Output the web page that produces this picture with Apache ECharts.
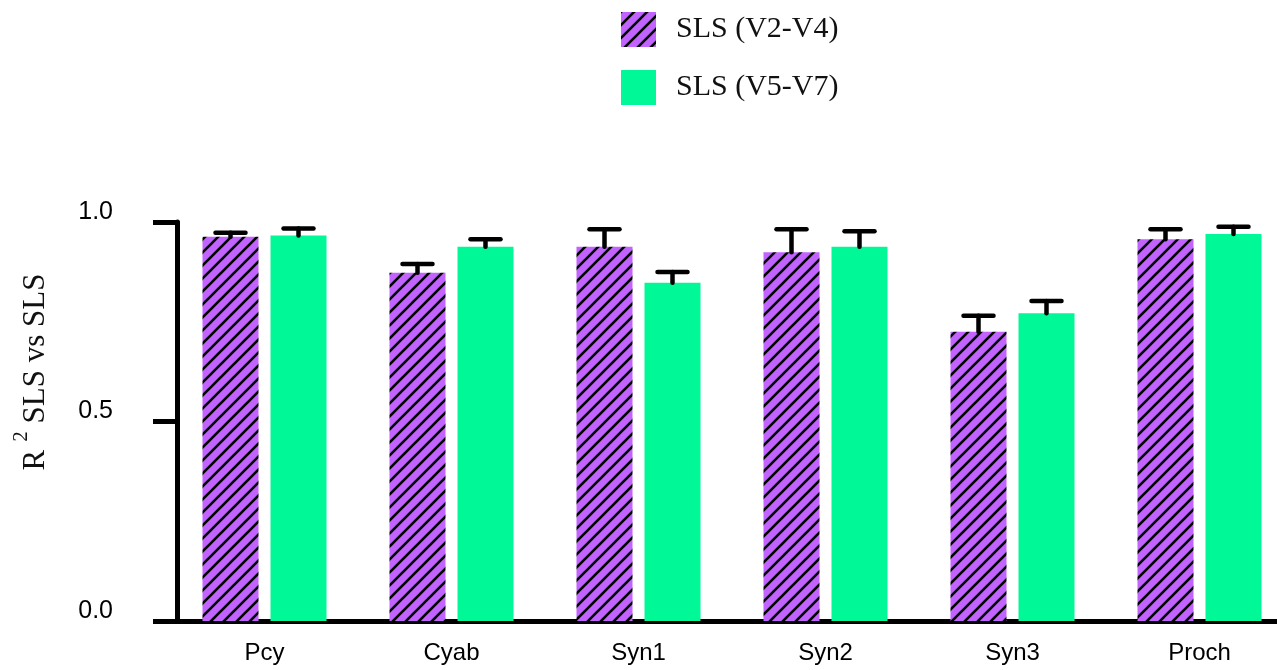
<!DOCTYPE html>
<html>
<head>
<meta charset="utf-8">
<script src="https://cdn.jsdelivr.net/npm/echarts@6/dist/echarts.min.js"></script>
<style>
  html, body { margin: 0; padding: 0; background: #fff; }
  #chart { width: 1277px; height: 670px; }
</style>
</head>
<body>
<div id="chart"></div>
<script>
// Groups along the x axis
const categories = ['Pcy', 'Cyab', 'Syn1', 'Syn2', 'Syn3', 'Proch'];

// Series names
const seriesNames = ['SLS (V2-V4)', 'SLS (V5-V7)'];

// Mean R² per group and upper error (SD)
const meanV2V4 = [0.963, 0.873, 0.938, 0.924, 0.725, 0.957];
const errV2V4  = [0.010, 0.022, 0.044, 0.058, 0.040, 0.025];
const meanV5V7 = [0.966, 0.938, 0.848, 0.938, 0.771, 0.970];
const errV5V7  = [0.018, 0.019, 0.027, 0.039, 0.031, 0.018];

// Y axis ticks
const yTicks = [0, 0.5, 1.0];

const PURPLE = '#C262FF';
const GREEN = '#00F996';
const BAR_W = 56;
const BAR_GAP = 12;

// Diagonal hatch tile for the V2-V4 bars
function hatchTile() {
  const s = 13;
  const c = document.createElement('canvas');
  c.width = s; c.height = s;
  const g = c.getContext('2d');
  g.fillStyle = PURPLE;
  g.fillRect(0, 0, s, s);
  g.strokeStyle = '#000';
  g.lineWidth = 2.6;
  g.beginPath();
  g.moveTo(-2, s + 2); g.lineTo(s + 2, -2);
  g.moveTo(-2, 2); g.lineTo(2, -2);
  g.moveTo(s - 2, s + 2); g.lineTo(s + 2, s - 2);
  g.stroke();
  return c;
}
const hatch = { image: hatchTile(), repeat: 'repeat' };

// Upper-only T error bars, shifted to sit over their own bar
function errorBars(means, errs, side) {
  return {
    type: 'custom',
    name: 'err' + side,
    silent: true,
    z: 5,
    data: means.map((m, i) => [i, m, m + errs[i]]),
    renderItem: function (params, api) {
      const i = api.value(0);
      const shift = side * (BAR_W / 2 + BAR_GAP / 2);
      const lo = api.coord([i, api.value(1)]);
      const hi = api.coord([i, api.value(2)]);
      const x = lo[0] + shift;
      const half = 15;
      const style = { stroke: '#000', lineWidth: 4.5, lineCap: 'round' };
      return {
        type: 'group',
        children: [
          { type: 'line', shape: { x1: x, y1: lo[1], x2: x, y2: hi[1] }, style: style },
          { type: 'line', shape: { x1: x - half, y1: hi[1], x2: x + half, y2: hi[1] }, style: style }
        ]
      };
    }
  };
}

const chart = echarts.init(document.getElementById('chart'), null, { renderer: 'canvas' });

chart.setOption({
  animation: false,
  backgroundColor: '#fff',
  legend: {
    orient: 'vertical',
    left: 621,
    top: 12,
    padding: 0,
    itemWidth: 35,
    itemHeight: 35,
    itemGap: 23,
    icon: 'rect',
    data: seriesNames,
    textStyle: {
      fontFamily: '"Liberation Serif", "Times New Roman", serif',
      fontSize: 30,
      color: '#111',
      padding: [0, 0, 0, 15]
    }
  },
  grid: {
    left: 171,
    width: 1122,
    top: 222,
    bottom: 49,
    containLabel: false,
    outerBoundsMode: 'none'
  },
  xAxis: {
    type: 'category',
    data: categories,
    axisLine: { show: true, lineStyle: { color: '#000', width: 5 } },
    axisTick: { show: false },
    axisLabel: {
      margin: 20,
      fontFamily: '"Liberation Sans", Arial, sans-serif',
      fontSize: 24,
      color: '#000'
    }
  },
  yAxis: {
    type: 'value',
    min: 0,
    max: 1,
    interval: 0.5,
    offset: -6,
    splitLine: { show: false },
    axisLine: { show: true, lineStyle: { color: '#000', width: 5 } },
    axisTick: { show: true, length: 24, lineStyle: { color: '#000', width: 5 } },
    axisLabel: {
      margin: 64,
      fontFamily: '"Liberation Sans", Arial, sans-serif',
      fontSize: 25,
      color: '#000',
      verticalAlign: 'bottom',
      lineHeight: 20,
      formatter: function (v) {
        return yTicks.indexOf(v) >= 0 ? v.toFixed(1) : '';
      }
    },
    name: '{b|R}{s|2}{b| SLS vs SLS}',
    nameLocation: 'middle',
    nameRotate: 90,
    nameGap: 117,
    nameTextStyle: {
      padding: [0, 0, 0, 99],
      rich: {
        b: { fontFamily: '"Liberation Serif", "Times New Roman", serif', fontSize: 31, color: '#111' },
        s: { fontFamily: '"Liberation Serif", "Times New Roman", serif', fontSize: 21, color: '#111', padding: [0, 0, 28, 8] }
      }
    }
  },
  series: [
    {
      type: 'bar',
      name: seriesNames[0],
      data: meanV2V4,
      barWidth: BAR_W,
      barGap: (BAR_GAP / BAR_W * 100) + '%',
      itemStyle: { color: hatch }
    },
    {
      type: 'bar',
      name: seriesNames[1],
      data: meanV5V7,
      barWidth: BAR_W,
      itemStyle: { color: GREEN }
    },
    errorBars(meanV2V4, errV2V4, -1),
    errorBars(meanV5V7, errV5V7, 1)
  ]
});
</script>
</body>
</html>
